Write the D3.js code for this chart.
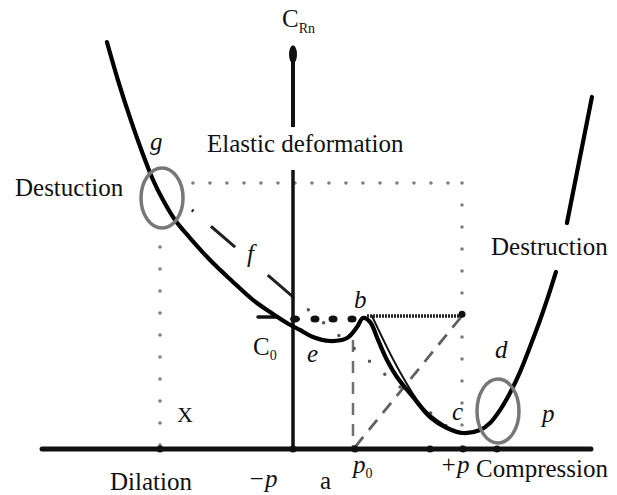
<!DOCTYPE html>
<html>
<head>
<meta charset="utf-8">
<script src="https://cdn.jsdelivr.net/npm/d3@7"></script>
<style>
body { margin: 0; background: #fff; }
text { font-family: "Liberation Serif", "DejaVu Serif", serif; fill: #111; }
</style>
</head>
<body>
<script>
// radon concentration vs stress, schematic (x: 0 = no stress, 1 = +p ; y: 1 = C0)
var mainCurve = [
  [-1.101, 3.083], [-1.036, 2.795], [-0.964, 2.508], [-0.893, 2.250], [-0.828, 2.038],
  [-0.769, 1.886], [-0.698, 1.735], [-0.609, 1.598], [-0.491, 1.432], [-0.361, 1.273],
  [-0.237, 1.129], [-0.136, 1.038], [-0.036, 0.955], [0.041, 0.902], [0.118, 0.848],
  [0.219, 0.818], [0.320, 0.841], [0.379, 0.924], [0.414, 0.992], [0.456, 0.962],
  [0.503, 0.826], [0.556, 0.674], [0.615, 0.545], [0.710, 0.394], [0.811, 0.242],
  [0.911, 0.159], [1.006, 0.121], [1.107, 0.144], [1.166, 0.197], [1.225, 0.295],
  [1.284, 0.424], [1.343, 0.583], [1.402, 0.773], [1.462, 0.977], [1.509, 1.152],
  [1.556, 1.341], null, [1.621, 1.712], [1.769, 2.667]
];
var thinBranch = [[0.467, 1.008], [0.633, 0.583], [0.781, 0.295], [0.959, 0.129]];
var bLevel = [[0.438, 1.008], [1.0, 1.008]];
var c0Dots = [0.012, 0.130, 0.237, 0.349];
var gfDashed = [[-0.598, 1.811], [0, 1.152]];
var gfDotted = [[0, 1.152], [0.970, 0.106]];
var topDotted = [[-0.592, 2.015], [1.0, 2.015]];
var leftDotted = [[-0.787, 1.530], [-0.787, 0]];
var rightDotted = [[1.0, 2.015], [1.0, 0]];
var p0Vertical = [[0.355, 0.826], [0.355, 0.015]];
var p0Diagonal = [[0.367, 0.015], [1.0, 1.008]];
var axisTicks = [-0.787, 0, 0.367, 0.811, 1.006, 1.207];
var rings = [[-0.775, 1.902], [1.213, 0.288]];

var labels = [
  {t: "Destuction", x: -1.645, y: 1.917},
  {t: "g", x: -0.846, y: 2.265, i: true},
  {t: "Elastic deformation", x: -0.509, y: 2.25},
  {t: "f", x: -0.272, y: 1.417, i: true},
  {t: "b", x: 0.361, y: 1.068, i: true},
  {t: "e", x: 0.083, y: 0.659, i: true},
  {t: "d", x: 1.195, y: 0.689, i: true},
  {t: "X", x: -0.686, y: 0.205, s: 22},
  {t: "p", x: 1.473, y: 0.205, i: true},
  {t: "c", x: 0.941, y: 0.220, i: true},
  {t: "Destruction", x: 1.172, y: 1.470},
  {t: "Dilation", x: -1.083, y: -0.31},
  {t: "\u2212p", x: -0.266, y: -0.285, i: true},
  {t: "a", x: 0.160, y: -0.30},
  {t: "+p", x: 0.870, y: -0.182, i: true},
  {t: "Compression", x: 1.083, y: -0.212}
];

var width = 617, height = 495;
var x = d3.scaleLinear().domain([0, 1]).range([293, 462]);
var y = d3.scaleLinear().domain([0, 1]).range([449, 317]);

var svg = d3.select("body").append("svg")
  .attr("width", width)
  .attr("height", height);

var line = d3.line()
  .defined(function(d) { return d; })
  .x(function(d) { return x(d[0]); })
  .y(function(d) { return y(d[1]); });

function seg(pts, color, w, dash) {
  return svg.append("path")
    .attr("d", line(pts))
    .attr("fill", "none")
    .attr("stroke", color)
    .attr("stroke-width", w)
    .attr("stroke-linecap", "round")
    .attr("stroke-dasharray", dash || null);
}

// dotted guide lines
seg(topDotted, "#808080", 3.6, "0,17");
seg(leftDotted, "#808080", 3.6, "0,22");
seg(rightDotted, "#808080", 3.6, "0,22");

// p0 guides
seg(p0Vertical, "#707070", 2.5, "12,9").attr("stroke-linecap", "butt");
seg(p0Diagonal, "#606060", 2.8, "13,9").attr("stroke-linecap", "butt");

// g - f - c line
seg(gfDashed, "#222", 3, "2,23,32,43,33").attr("stroke-linecap", "butt");
seg(gfDotted, "#555", 3.5, "0,20");

// axes
seg([[-1.485, 0], [1.763, 0]], "#111", 5);
seg([[0, 0], [0, 2.114]], "#111", 3.5).attr("stroke-linecap", "butt");
seg([[0, 2.439], [0, 2.962]], "#111", 4).attr("stroke-linecap", "butt");
svg.append("ellipse")
  .attr("cx", x(0)).attr("cy", y(2.99))
  .attr("rx", 4).attr("ry", 9)
  .attr("fill", "#111");

svg.selectAll(".tick").data(axisTicks).enter().append("circle")
  .attr("cx", function(d) { return x(d); })
  .attr("cy", y(0))
  .attr("r", 3.5)
  .attr("fill", "#111");

// C0 level
seg([[-0.207, 1.0], [-0.089, 1.0]], "#111", 3.5);
svg.selectAll(".c0").data(c0Dots).enter().append("ellipse")
  .attr("cx", function(d) { return x(d); })
  .attr("cy", y(0.985))
  .attr("rx", function(d, i) { return i === 0 ? 5 : 4.5; })
  .attr("ry", 3.5)
  .attr("fill", "#111");

// b level
seg(bLevel, "#222", 3.5, "2,1").attr("stroke-linecap", "butt");
svg.append("circle").attr("cx", x(1.0)).attr("cy", y(1.02)).attr("r", 3.5).attr("fill", "#111");

// curves
seg(thinBranch, "#111", 2).attr("d", line.curve(d3.curveCatmullRom)(thinBranch));
seg(mainCurve, "#000", 4.2).attr("d", line.curve(d3.curveCatmullRom)(mainCurve));

// rings
svg.selectAll(".ring").data(rings).enter().append("ellipse")
  .attr("cx", function(d) { return x(d[0]); })
  .attr("cy", function(d) { return y(d[1]); })
  .attr("rx", 21)
  .attr("ry", function(d, i) { return i === 0 ? 30 : 32; })
  .attr("fill", "none")
  .attr("stroke", "#777")
  .attr("stroke-width", 3.5);

// labels
svg.selectAll(".lbl").data(labels).enter().append("text")
  .attr("x", function(d) { return x(d.x); })
  .attr("y", function(d) { return y(d.y); })
  .attr("font-size", function(d) { return d.s || 25; })
  .attr("font-style", function(d) { return d.i ? "italic" : null; })
  .text(function(d) { return d.t; });

var crn = svg.append("text").attr("x", x(-0.065)).attr("y", y(3.197)).attr("font-size", 25);
crn.append("tspan").text("C");
crn.append("tspan").attr("font-size", 14).attr("dy", 6).text("Rn");

var c0 = svg.append("text").attr("x", x(-0.237)).attr("y", y(0.712)).attr("font-size", 25);
c0.append("tspan").text("C");
c0.append("tspan").attr("font-size", 14).attr("dy", 5).text("0");

var p0 = svg.append("text").attr("x", x(0.355)).attr("y", y(-0.182)).attr("font-size", 25);
p0.append("tspan").attr("font-style", "italic").text("p");
p0.append("tspan").attr("font-size", 14).attr("dy", 5).text("0");
</script>
</body>
</html>
